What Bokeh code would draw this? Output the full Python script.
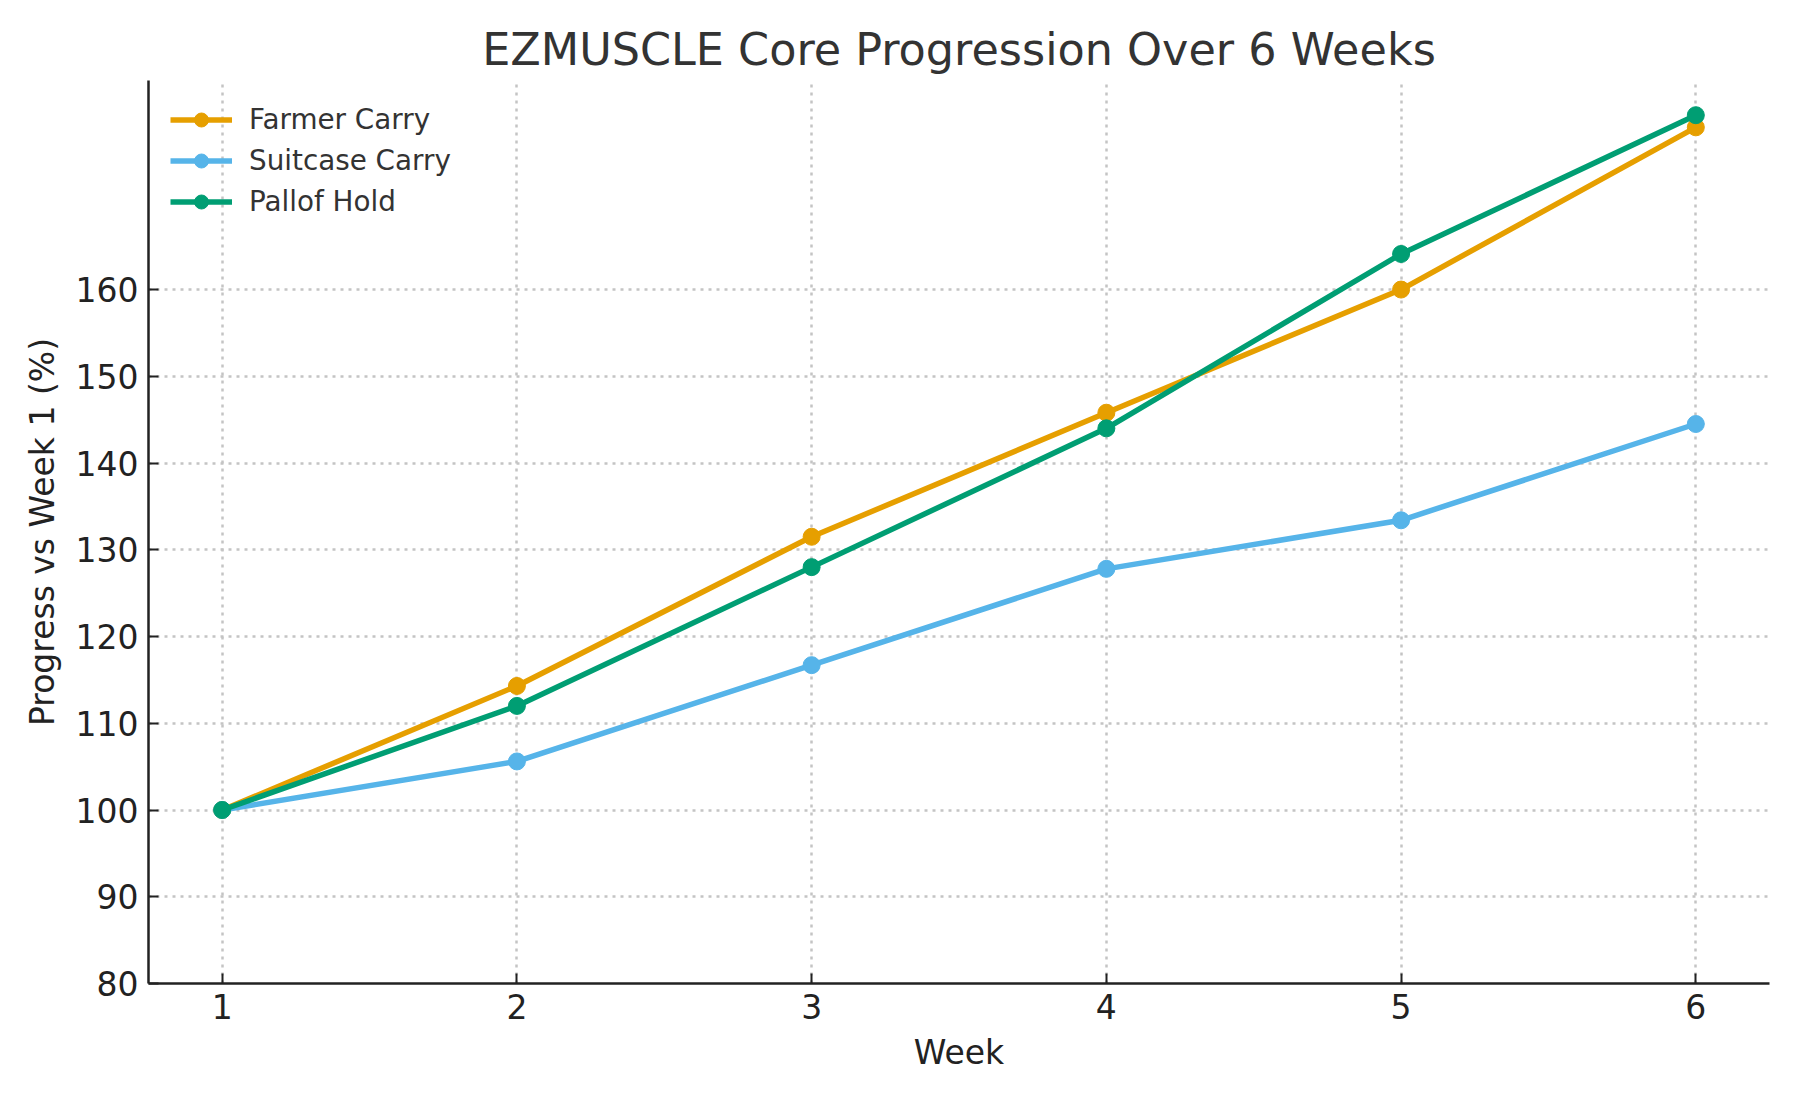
from bokeh.plotting import figure
from bokeh.models import Range1d, FixedTicker, Legend, LegendItem
from bokeh.embed import file_html
from bokeh.resources import INLINE

weeks = [1, 2, 3, 4, 5, 6]
farmer_carry = [100, 114.3, 131.5, 145.8, 160.0, 178.7]
suitcase_carry = [100, 105.6, 116.7, 127.8, 133.4, 144.5]
pallof_hold = [100, 112.0, 128.0, 144.0, 164.1, 180.1]
y_ticks = [80, 90, 100, 110, 120, 130, 140, 150, 160]
x_ticks = [1, 2, 3, 4, 5, 6]

series = [
    ("Farmer Carry", farmer_carry, "#E69F00"),
    ("Suitcase Carry", suitcase_carry, "#56B4E9"),
    ("Pallof Hold", pallof_hold, "#009E73"),
]

FONT = "DejaVu Sans"

p = figure(
    frame_width=1621, frame_height=903,
    min_border_left=148, min_border_right=15,
    min_border_top=80, min_border_bottom=101,
    x_range=Range1d(0.75, 6.25), y_range=Range1d(80, 184.1),
    output_backend="svg", toolbar_location=None,
    title="EZMUSCLE Core Progression Over 6 Weeks",
)
p.outline_line_color = None
p.background_fill_color = "white"
p.border_fill_color = "white"

p.title.text_font = FONT
p.title.text_font_size = "44.5px"
p.title.text_font_style = "normal"
p.title.text_color = "#333333"
p.title.align = "center"
p.title.standoff = 12

p.xaxis.ticker = FixedTicker(ticks=x_ticks)
p.yaxis.ticker = FixedTicker(ticks=y_ticks)
p.xaxis.axis_label = "Week"
p.yaxis.axis_label = "Progress vs Week 1 (%)"
for ax in (p.xaxis, p.yaxis):
    ax.axis_line_width = 2.5
    ax.axis_line_color = "#222222"
    ax.major_tick_in = 10
    ax.major_tick_out = 0
    ax.major_tick_line_width = 2
    ax.major_tick_line_color = "#222222"
    ax.minor_tick_line_color = None
    ax.major_label_text_font = FONT
    ax.major_label_text_font_size = "33px"
    ax.major_label_text_color = "#222222"
    ax.major_label_standoff = 10
    ax.axis_label_text_font = FONT
    ax.axis_label_text_font_size = "33px"
    ax.axis_label_text_font_style = "normal"
    ax.axis_label_text_color = "#222222"
p.xaxis.axis_label_standoff = 11
p.yaxis.axis_label_standoff = 11

for g in (p.xgrid, p.ygrid):
    g.grid_line_color = "#c4c4c4"
    g.grid_line_width = 2.5
    g.grid_line_dash = "3 5"

items = []
for name, vals, color in series:
    r1 = p.line(weeks, vals, line_color=color, line_width=5.5)
    r2 = p.scatter(weeks, vals, size=17, fill_color=color, line_color=color)
    items.append(LegendItem(label=name, renderers=[r1, r2]))

legend = Legend(
    items=items, location="top_left",
    background_fill_alpha=0, border_line_alpha=0,
    label_text_font=FONT, label_text_font_size="27.8px", label_text_color="#333333",
    glyph_width=62, glyph_height=35, label_height=35, spacing=6,
    label_standoff=17, padding=12, margin=10,
)
p.add_layout(legend)

open("out.html", "w").write(file_html(p, INLINE))
